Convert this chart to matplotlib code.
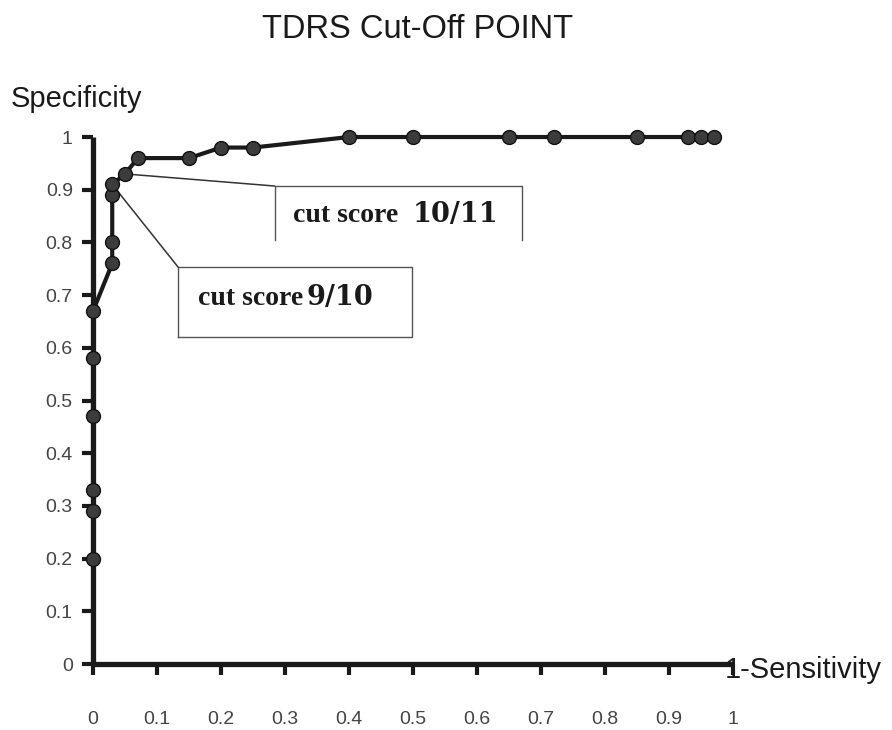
import matplotlib
matplotlib.use("Agg")
import matplotlib.pyplot as plt

# ROC points (1-sensitivity, specificity)
one_minus_sens = [0, 0, 0, 0, 0, 0, 0.03, 0.03, 0.03, 0.03, 0.05, 0.07,
                  0.15, 0.2, 0.25, 0.4, 0.5, 0.65, 0.72, 0.85, 0.93, 0.95, 0.97]
specificity = [0.2, 0.29, 0.33, 0.47, 0.58, 0.67, 0.76, 0.80, 0.89, 0.91, 0.93, 0.96,
               0.96, 0.98, 0.98, 1, 1, 1, 1, 1, 1, 1, 1]
ticks = [0, 0.1, 0.2, 0.3, 0.4, 0.5, 0.6, 0.7, 0.8, 0.9, 1]
tick_labels = ["0", "0.1", "0.2", "0.3", "0.4", "0.5", "0.6", "0.7", "0.8", "0.9", "1"]

fig = plt.figure(figsize=(8.92, 7.30), dpi=100)
ax = fig.add_axes([0.1043, 0.0904, 0.7175, 0.7219])

ax.plot(one_minus_sens, specificity, color="#1a1a1a", lw=3, marker="o",
        markersize=10, markerfacecolor="#3c3c3c", markeredgecolor="#111111",
        markeredgewidth=1, clip_on=False, zorder=5)

ax.set_xlim(0, 1)
ax.set_ylim(0, 1)
for s in ["top", "right"]:
    ax.spines[s].set_visible(False)
for s in ["left", "bottom"]:
    ax.spines[s].set_linewidth(3.8)
    ax.spines[s].set_color("#1a1a1a")
    ax.spines[s].set_capstyle("butt")

ax.set_xticks(ticks)
ax.set_xticklabels(tick_labels)
ax.set_yticks(ticks)
ax.set_yticklabels(tick_labels)
ax.tick_params(axis="both", direction="out", length=7.6, width=3, color="#1a1a1a",
               labelsize=14, labelcolor="#444444")
ax.tick_params(axis="x", pad=26)
ax.tick_params(axis="y", pad=7)
for lab in ax.get_xticklabels() + ax.get_yticklabels():
    lab.set_family("Liberation Sans")

# axis labels
ax.text(-0.128, 1.0575, "Specificity", transform=ax.transAxes, family="Liberation Sans",
        fontsize=21, color="#1a1a1a", ha="left", va="baseline", clip_on=False)
ax.text(0.9875, -0.0266, "1-Sensitivity", transform=ax.transAxes, family="Liberation Sans",
        fontsize=21, color="#1a1a1a", ha="left", va="baseline", clip_on=False)

fig.text(0.468, 0.948, "TDRS Cut-Off POINT", family="Liberation Sans", fontsize=23.5,
         color="#1a1a1a", ha="center", va="baseline")

# cut score 10/11 callout (box open at the bottom)
ax.annotate("", xy=(0.05, 0.93), xycoords="data", xytext=(0.284, 0.907),
            textcoords="axes fraction",
            arrowprops=dict(arrowstyle="-", lw=1.1, color="#333333", shrinkA=0, shrinkB=0))
ax.plot([0.284, 0.284, 0.670, 0.670], [0.805, 0.907, 0.907, 0.805], color="#555555",
        lw=1, transform=ax.transAxes, clip_on=False)
ax.text(0.3125, 0.839, "cut score", transform=ax.transAxes, family="Liberation Serif",
        fontweight="bold", fontsize=20, color="#1a1a1a", ha="left", va="baseline")
ax.text(0.5, 0.839, "10/11", transform=ax.transAxes, family="DejaVu Serif",
        fontweight="bold", fontsize=19.5, color="#1a1a1a", ha="left", va="baseline")

# cut score 9/10 callout
ax.annotate("", xy=(0.03, 0.91), xycoords="data", xytext=(0.133, 0.753),
            textcoords="axes fraction",
            arrowprops=dict(arrowstyle="-", lw=1.1, color="#333333", shrinkA=0, shrinkB=0))
ax.plot([0.133, 0.133, 0.498, 0.498, 0.133], [0.620, 0.753, 0.753, 0.620, 0.620],
        color="#555555", lw=1, transform=ax.transAxes, clip_on=False)
ax.text(0.1641, 0.681, "cut score", transform=ax.transAxes, family="Liberation Serif",
        fontweight="bold", fontsize=20, color="#1a1a1a", ha="left", va="baseline")
ax.text(0.334, 0.681, "9/10", transform=ax.transAxes, family="DejaVu Serif",
        fontweight="bold", fontsize=19.5, color="#1a1a1a", ha="left", va="baseline")

fig.savefig("out.png", dpi=100)
